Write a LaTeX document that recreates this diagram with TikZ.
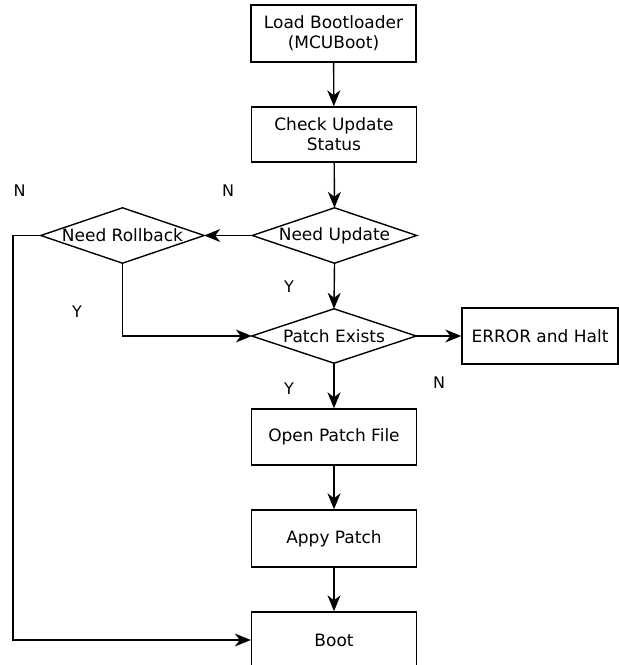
\documentclass[tikz,border=0pt]{standalone}
\usepackage{fontspec}
\setmainfont{DejaVu Sans}
\usetikzlibrary{arrows.meta}
\tikzset{
  boxnode/.style={draw, line width=1.4pt, minimum width=165pt, minimum height=56pt, inner sep=0pt, align=center, font=\fontsize{17}{20}\selectfont},
  decnode/.style={minimum width=164pt, minimum height=55pt, inner sep=0pt, align=center, font=\fontsize{17}{20}\selectfont},
  decshape/.style={line width=1.4pt, line join=miter},
  conn/.style={line width=1.4pt, -{Stealth[length=16pt,width=13pt,inset=5pt]}},
  lbl/.style={font=\fontsize{16}{19}\selectfont, inner sep=0pt}
}
\begin{document}
\begin{tikzpicture}[x=1pt,y=1pt]
\useasboundingbox (0,0) rectangle (619,665);
\clip (0,0) rectangle (619,665);
\node[boxnode, minimum height=57pt] (b1) at (333.5,631.5) {Load Bootloader\\(MCUBoot)};
\node[boxnode, minimum height=55pt] (b2) at (334,530.5) {Check Update\\Status};
\node[decnode] (d1) at (334.5,429.5) {Need Update};
\node[decnode, minimum width=163pt] (d2) at (122.5,429.5) {Need Rollback};
\node[decnode, minimum height=54pt] (d3) at (334,329) {Patch Exists};
\node[boxnode, minimum width=156pt] (err) at (540,329) {ERROR and Halt};
\node[boxnode] (b3) at (334,228) {Open Patch File};
\node[boxnode, minimum height=57pt] (b4) at (334,126.5) {Appy Patch};
\node[boxnode] (boot) at (334,25) {Boot};
\foreach \d in {d1,d2,d3}{
  \draw[decshape] (\d.north) -- (\d.east) -- (\d.south) -- (\d.west) -- cycle;
}
\coordinate (lft) at (13,429.5);
\draw[conn] (b1) -- (b2);
\draw[conn] (b2) -- (d1.north);
\draw[conn] (d1.west) -- (d2.east);
\draw[conn] (d1.south) -- (d3.north);
\draw[conn] (d2.south) |- (d3.west);
\draw[conn] (d3.east) -- (err.west);
\draw[conn] (d3.south) -- (b3.north);
\draw[conn] (b3) -- (b4);
\draw[conn] (b4) -- (boot);
\draw[conn] (d2.west) -- (lft) |- (boot.west);
\node[lbl] (n1) at (19.5,474) {N};
\node[lbl] (n2) at (228,474) {N};
\node[lbl] (y1) at (77,353) {Y};
\node[lbl] (y2) at (289,378) {Y};
\node[lbl] (y3) at (289,276) {Y};
\node[lbl] (n3) at (439,282) {N};
\end{tikzpicture}
\end{document}
